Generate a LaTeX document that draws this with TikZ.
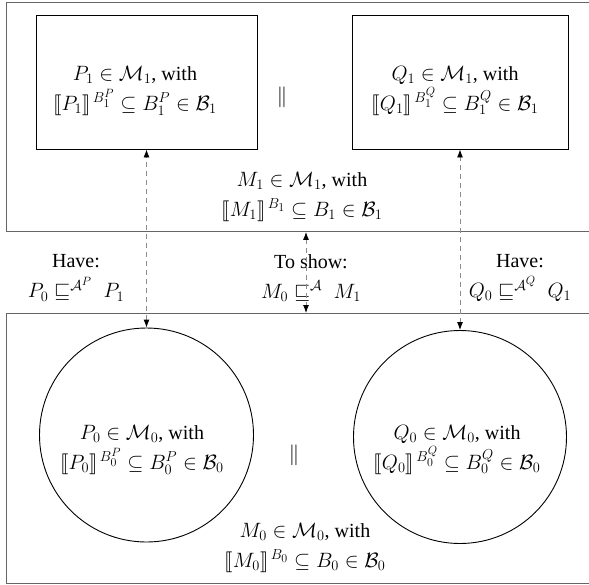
\documentclass[tikz,border=0pt]{standalone}
\usepackage{stmaryrd}
\usepackage{fontspec}
\setmainfont{Liberation Serif}
\DeclareMathSizes{20}{20}{15}{12}
\usetikzlibrary{arrows.meta,calc}
\begin{document}
\begin{tikzpicture}[x=1pt,y=-1pt,
  outer/.style={draw=black!60,line width=0.9pt,inner sep=0pt},
  inner/.style={draw=black,line width=0.9pt,inner sep=0pt},
  lab/.style={align=center,font=\fontsize{20}{30}\selectfont,inner sep=0pt},
  par/.style={font=\fontsize{22}{26}\selectfont,inner sep=0pt},
  link/.style={draw=black!45,dash pattern=on 5pt off 4pt,line width=0.9pt,
    {Latex[length=8pt,width=6pt,black]}-{Latex[length=8pt,width=6pt,black]}}
]
\useasboundingbox (0,0) rectangle (589,584);
\begin{scope}
\clip (0,0) rectangle (589,584);
% outer regions
\node[outer,minimum width=630pt,minimum height=229pt,anchor=north west] (top) at (5.6,2) {};
\node[outer,minimum width=630pt,minimum height=270pt,anchor=north west] (bot) at (6,313) {};
\end{scope}
% upper level boxes
\node[inner,minimum width=221pt,minimum height=134pt] (p1box) at (146.5,82) {};
\node[inner,minimum width=216pt,minimum height=134pt] (q1box) at (460,82) {};
\node[lab] (p1t) at (135,91) {$P_1 \in \mathcal{M}_1$, with\\ $\llbracket P_1\rrbracket^{\,B_1^P} \subseteq B_1^P \in \mathcal{B}_1$};
\node[lab] (q1t) at (455,91) {$Q_1 \in \mathcal{M}_1$, with\\ $\llbracket Q_1\rrbracket^{\,B_1^Q} \subseteq B_1^Q \in \mathcal{B}_1$};
\node[par] (par1) at (282,97) {$\|$};
\node[lab] (m1t) at (302,197) {$M_1 \in \mathcal{M}_1$, with\\ $\llbracket M_1\rrbracket^{\,B_1} \subseteq B_1 \in \mathcal{B}_1$};
% lower level circles
\node[inner,circle,minimum size=214pt] (p0c) at (146.5,435) {};
\node[inner,circle,minimum size=213pt] (q0c) at (460,437) {};
\node[lab] (p0t) at (142,450) {$P_0 \in \mathcal{M}_0$, with\\ $\llbracket P_0\rrbracket^{\,B_0^P} \subseteq B_0^P \in \mathcal{B}_0$};
\node[lab] (q0t) at (457,450) {$Q_0 \in \mathcal{M}_0$, with\\ $\llbracket Q_0\rrbracket^{\,B_0^Q} \subseteq B_0^Q \in \mathcal{B}_0$};
\node[par] (par0) at (294,455) {$\|$};
\node[lab] (m0t) at (305,548) {$M_0 \in \mathcal{M}_0$, with\\ $\llbracket M_0\rrbracket^{\,B_0} \subseteq B_0 \in \mathcal{B}_0$};
% middle labels
\node[lab] (havep) at (76,278) {Have:\\ $P_0 \sqsubseteq^{\mathcal{A}^P}\; P_1$};
\node[lab] (show) at (311,278) {To show:\\ $M_0 \sqsubseteq^{\mathcal{A}}\; M_1$};
\node[lab] (haveq) at (520,278) {Have:\\ $Q_0 \sqsubseteq^{\mathcal{A}^Q}\; Q_1$};
% connectors
\coordinate (midx) at (306,0);
\draw[link] (p0c.north) -- (p1box.south);
\draw[link] (q0c.north) -- (q1box.south);
\draw[link] (top.south -| midx) -- (bot.north -| midx);
\end{tikzpicture}
\end{document}
